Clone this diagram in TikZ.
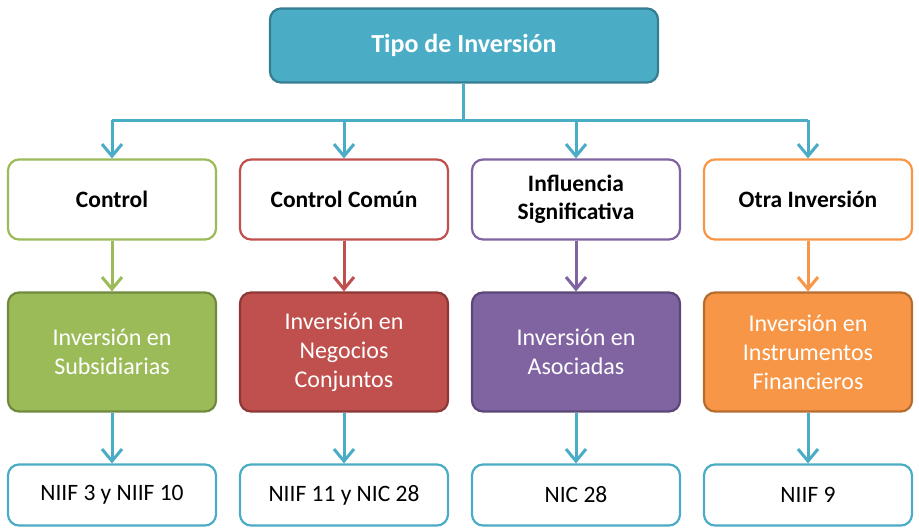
\documentclass[tikz,border=0pt]{standalone}
\usepackage{fontspec}
\setmainfont{Carlito}
\usetikzlibrary{arrows.meta}
\definecolor{teal}{HTML}{4BACC6}
\definecolor{tealdk}{HTML}{357D91}
\definecolor{grn}{HTML}{9BBB59}
\definecolor{grndk}{HTML}{71893F}
\definecolor{rd}{HTML}{C0504D}
\definecolor{rddk}{HTML}{8C3836}
\definecolor{pur}{HTML}{8064A2}
\definecolor{purdk}{HTML}{5C4776}
\definecolor{org}{HTML}{F79646}
\definecolor{orgdk}{HTML}{B66D31}
\tikzset{
  base/.style={rounded corners=11pt, line width=2.2pt, minimum width=208pt, align=center, inner sep=0pt},
  topbox/.style={base, fill=teal, draw=tealdk, minimum width=388pt, minimum height=74pt, text=white, font=\fontsize{26}{30}\selectfont\bfseries},
  catbox/.style={base, fill=white, minimum height=80pt, font=\fontsize{23.5}{28}\selectfont\bfseries},
  invbox/.style={base, minimum height=119pt, text=white, font=\fontsize{24}{29}\selectfont},
  normbox/.style={base, fill=white, draw=teal, minimum height=61pt, font=\fontsize{23.5}{28}\selectfont},
  conn/.style={line width=3pt, draw=teal},
  arr/.style={line width=3pt, -{Straight Barb[length=12pt,width=20pt,line width=3pt]}}
}
\begin{document}
\begin{tikzpicture}[x=1pt,y=-1pt]
\useasboundingbox (0,0) rectangle (919,531);
\node[topbox] (top) at (464,45.5) {Tipo de Inversión};
\node[catbox, draw=grn] (c1) at (112,199.5) {Control};
\node[catbox, draw=rd] (c2) at (344,199.5) {Control Común};
\node[catbox, draw=pur] (c3) at (576,199.5) {Influencia\\Significativa};
\node[catbox, draw=org] (c4) at (808,199.5) {Otra Inversión};
\node[invbox, fill=grn, draw=grndk] (i1) at (112,352) {Inversión en\\Subsidiarias};
\node[invbox, fill=rd, draw=rddk] (i2) at (344,352) {Inversión en\\Negocios\\Conjuntos};
\node[invbox, fill=pur, draw=purdk] (i3) at (576,352) {Inversión en\\Asociadas};
\node[invbox, fill=org, draw=orgdk] (i4) at (808,352) {Inversión en\\Instrumentos\\Financieros};
\node[normbox] (n1) at (112,495) {NIIF 3 y NIIF 10};
\node[normbox] (n2) at (344,495) {NIIF 11 y NIC 28};
\node[normbox] (n3) at (576,495) {NIC 28};
\node[normbox] (n4) at (808,495) {NIIF 9};
\coordinate (bus) at (463,120);
\draw[conn] (top.south -| bus) -- (bus);
\draw[conn] (bus -| c1.north) -- (bus -| c4.north);
\foreach \i in {1,2,3,4}{
  \draw[arr, teal] (bus -| c\i.north) -- (c\i.north);
  \draw[arr, teal] (i\i.south) -- (n\i.north);
}
\draw[arr, grn] (c1.south) -- (i1.north);
\draw[arr, rd] (c2.south) -- (i2.north);
\draw[arr, pur] (c3.south) -- (i3.north);
\draw[arr, org] (c4.south) -- (i4.north);
\end{tikzpicture}
\end{document}
